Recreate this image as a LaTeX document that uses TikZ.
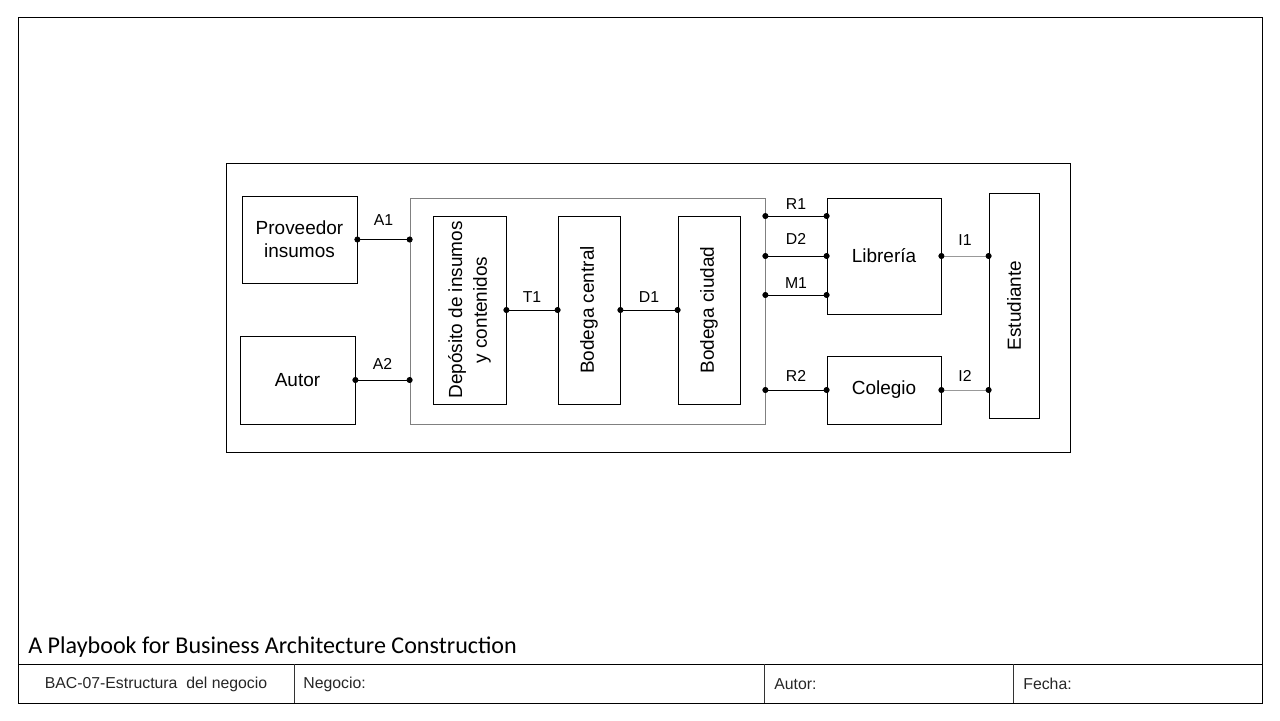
\documentclass[tikz,border=0pt]{standalone}
\usepackage{fontspec}
\setmainfont{Liberation Sans}
\newfontfamily\titlefont{Carlito}
\usetikzlibrary{arrows.meta}
\begin{document}
\begin{tikzpicture}[x=0.02cm,y=-0.02cm,
  box/.style={draw=black,line width=0.45pt,rectangle,inner sep=0pt,align=center,font=\fontsize{10.8pt}{13pt}\selectfont},
  grp/.style={draw=gray,line width=0.45pt,rectangle,inner sep=0pt},
  conn/.style={line width=0.45pt,{Circle[length=3.4pt,black]}-{Circle[length=3.4pt,black]},shorten <=-1.7pt,shorten >=-1.7pt},
  lbl/.style={font=\fontsize{9pt}{11pt}\selectfont,inner sep=0pt},
  foot/.style={font=\fontsize{9pt}{11pt}\selectfont,inner sep=0pt,text=black!85}]
\useasboundingbox (0,0) rectangle (1280,720);
% page frame
\draw[line width=0.5pt] (18,17) rectangle (1262,703);
\draw[line width=0.5pt] (18,664) -- (1262,664);
\draw[line width=0.4pt,black!80] (294,664) -- (294,703);
\draw[line width=0.4pt,black!80] (764,664) -- (764,703);
\draw[line width=0.4pt,black!80] (1013,664) -- (1013,703);
\node[anchor=west,inner sep=0pt,font=\titlefont\fontsize{13.7pt}{16pt}\selectfont] (title) at (28,647) {A Playbook for Business Architecture Construction};
\node[foot] (f1) at (156,684) {BAC-07-Estructura\ \ del negocio};
\node[foot,anchor=west] (f2) at (303,684) {Negocio:};
\node[foot,anchor=west] (f3) at (774,684) {Autor:};
\node[foot,anchor=west] (f4) at (1023,684) {Fecha:};
% diagram
\node[box,minimum width=16.88cm,minimum height=5.78cm] (outer) at (648,307.5) {};
\node[grp,minimum width=7.10cm,minimum height=4.52cm] (grp) at (587.5,311) {};
\node[box,minimum width=2.30cm,minimum height=1.74cm] (prov) at (299.5,239.5) {Proveedor\\insumos};
\node[box,minimum width=2.30cm,minimum height=1.76cm] (autor) at (297.5,380) {Autor};
\node[box,minimum width=1.46cm,minimum height=3.76cm] (dep) at (469.5,310) {};
\node[rotate=90,align=center,inner sep=0pt,font=\fontsize{10.8pt}{14pt}\selectfont] (deptxt) at (dep.center) {Depósito de insumos\\y contenidos};
\node[box,minimum width=1.24cm,minimum height=3.76cm] (bc) at (589,310) {};
\node[rotate=90,inner sep=0pt,font=\fontsize{10.8pt}{13pt}\selectfont] (bctxt) at (bc.center) {Bodega central};
\node[box,minimum width=1.24cm,minimum height=3.76cm] (bci) at (709,310) {};
\node[rotate=90,inner sep=0pt,font=\fontsize{10.8pt}{13pt}\selectfont] (bcitxt) at (bci.center) {Bodega ciudad};
\node[box,minimum width=2.28cm,minimum height=2.32cm] (lib) at (884,256) {Librería};
\node[box,minimum width=2.28cm,minimum height=1.36cm] (col) at (884,390) {Colegio};
\node[box,minimum width=1.00cm,minimum height=4.50cm] (est) at (1014,305.5) {};
\node[rotate=90,inner sep=0pt,font=\fontsize{10.8pt}{13pt}\selectfont] (esttxt) at (est.center) {Estudiante};
% connectors
\draw[conn] (prov.east) -- (prov.east -| grp.west) node[lbl,midway,above=7.5pt] (la1) {A1};
\draw[conn] (autor.east) -- (autor.east -| grp.west) node[lbl,midway,above=6pt] (la2) {A2};
\draw[conn] (dep.east) -- (bc.west) node[lbl,midway,above=4pt] (lt1) {T1};
\draw[conn] (bc.east) -- (bci.west) node[lbl,midway,above=4pt] (ld1) {D1};
\draw[conn] ([yshift=0.8cm]lib.west -| grp.east) -- ([yshift=0.8cm]lib.west) node[lbl,midway,above=3.5pt] (lr1) {R1};
\draw[conn] (lib.west -| grp.east) -- (lib.west) node[lbl,midway,above=6.5pt] (ld2) {D2};
\draw[conn] ([yshift=-0.78cm]lib.west -| grp.east) -- ([yshift=-0.78cm]lib.west) node[lbl,midway,above=3.5pt] (lm1) {M1};
\draw[conn] (col.west -| grp.east) -- (col.west) node[lbl,midway,above=4.5pt] (lr2) {R2};
\draw[conn,draw=gray!80] (lib.east) -- (lib.east -| est.west) node[lbl,midway,above=5.5pt] (li1) {I1};
\draw[conn,draw=gray!80] (col.east) -- (col.east -| est.west) node[lbl,midway,above=4.5pt] (li2) {I2};
\end{tikzpicture}
\end{document}
